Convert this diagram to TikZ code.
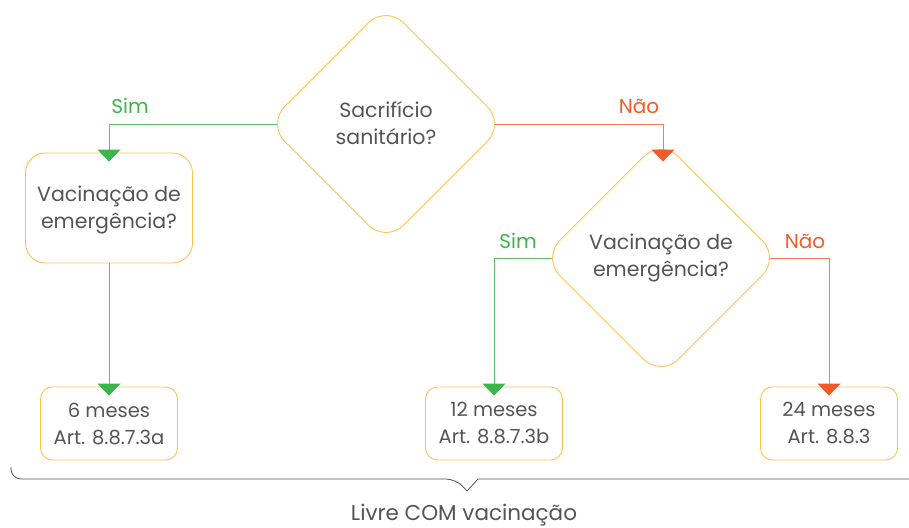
\documentclass[tikz,border=0pt]{standalone}
\usepackage{fontspec}
\setmainfont{Poppins}
\usetikzlibrary{shapes.geometric,arrows.meta}
\definecolor{ink}{HTML}{545456}
\definecolor{gold}{HTML}{FDC24F}
\definecolor{grn}{HTML}{3CB54A}
\definecolor{org}{HTML}{F15A29}
\definecolor{grnl}{HTML}{5CC068}
\definecolor{orgl}{HTML}{F37A52}
\begin{document}
\begin{tikzpicture}[x=1pt,y=-1pt,
  dia/.style={diamond, shape aspect=1, draw=gold, line width=0.9pt, minimum width=238pt, minimum height=238pt, inner sep=0pt, rounded corners=25pt},
  qbox/.style={draw=gold, line width=0.9pt, rounded corners=20pt, minimum width=167pt, minimum height=110pt, inner sep=0pt},
  rbox/.style={draw=gold, line width=0.9pt, rounded corners=12pt, minimum width=137pt, minimum height=73pt, inner sep=0pt},
  txt/.style={text=ink, font=\fontsize{20.5}{27.5}\selectfont, align=center, inner sep=0pt},
  rtxt/.style={text=ink, font=\fontsize{19.5}{27}\selectfont, align=center, inner sep=0pt},
  lab/.style={font=\fontsize{20}{24}\selectfont, inner sep=0pt},
  gline/.style={draw=grnl, line width=1pt, -{Triangle[width=23pt,length=12pt,color=grn]}},
  oline/.style={draw=orgl, line width=1pt, -{Triangle[width=23pt,length=12pt,color=org]}},
  brace/.style={draw=ink, line width=0.8pt}
]
\useasboundingbox (0,0) rectangle (909,527);

\node[dia] (d1) at (386,124) {};
\node[txt] (t1) at (386,123) {Sacrifício\\sanitário?};
\node[dia] (d2) at (661,258) {};
\node[txt] (t2) at (661,258) {Vacinação de\\emergência?};
\node[qbox] (lb) at (109,208) {};
\node[txt] (t3) at (109,210) {Vacinação de\\emergência?};

\node[rbox] (b1) at (109,423.5) {};
\node[rtxt] (r1) at (109,423.5) {6 meses\\Art. 8.8.7.3a};
\node[rbox] (b2) at (494,423.5) {};
\node[rtxt] (r2) at (494,423.5) {12 meses\\Art. 8.8.7.3b};
\node[rbox] (b3) at (829,423.5) {};
\node[rtxt] (r3) at (829,423.5) {24 meses\\Art. 8.8.3};

\draw[gline] ([xshift=10pt]d1.west) -| ([yshift=-9pt]lb.north);
\draw[gline] (lb.south) -- ([yshift=-9pt]b1.north);
\draw[oline] ([xshift=-10pt]d1.east) -| ([yshift=-23pt,xshift=2pt]d2.north);
\draw[gline] ([xshift=10pt]d2.west) -| ([yshift=-9pt]b2.north);
\draw[oline] ([xshift=-10pt]d2.east) -| ([yshift=-9pt]b3.north);

\node[lab, text=grn] (l1) at (130,106) {Sim};
\node[lab, text=org] (l2) at (639,106) {Não};
\node[lab, text=grn] (l3) at (518,241) {Sim};
\node[lab, text=org] (l4) at (805,241) {Não};

\draw[brace] (11,467) [rounded corners=10pt] -- (11,479) -- (456,479) [sharp corners] -- (467,491) -- (478,479) -- (909,479);
\node[txt, font=\fontsize{21.5}{26}\selectfont] (lv) at (464,515) {Livre COM vacinação};
\end{tikzpicture}
\end{document}
